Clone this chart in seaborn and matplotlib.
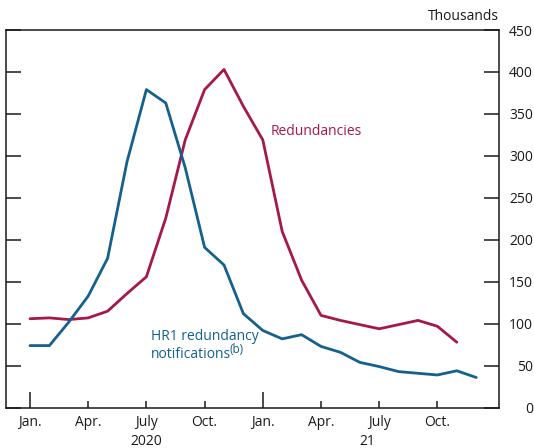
import numpy as np
import pandas as pd
import matplotlib
matplotlib.use("Agg")
import matplotlib.pyplot as plt
import matplotlib.transforms as mtransforms
import seaborn as sns

# ---- data (thousands), monthly from Jan 2020 ----
months_redund = list(range(0, 23))
redundancies = [106, 107, 105, 107, 115, 136, 156, 226, 319, 379, 403, 359,
                319, 210, 152, 110, 104, 99, 94, 99, 104, 97, 78]
months_hr1 = list(range(0, 24))
hr1 = [74, 74, 102, 133, 178, 293, 379, 363, 286, 191, 170, 112,
       92, 82, 87, 73, 66, 54, 49, 43, 41, 39, 44, 36]

quarter_pos = [0, 3, 6, 9, 12, 15, 18, 21]
quarter_labels = ["Jan.", "Apr.", "July", "Oct.", "Jan.", "Apr.", "July", "Oct."]
year_pos = [6, 18]
year_labels = ["2020", "21"]
y_ticks = [0, 50, 100, 150, 200, 250, 300, 350, 400, 450]

RED = "#a6174b"
BLUE = "#14608f"
INK = "#1a1a1a"

sns.set_theme(style="white")
plt.rcParams["font.family"] = ["Open Sans", "DejaVu Sans"]

df = pd.concat([
    pd.DataFrame({"month": months_redund, "value": redundancies, "series": "Redundancies"}),
    pd.DataFrame({"month": months_hr1, "value": hr1, "series": "HR1"}),
])

fig = plt.figure(figsize=(5.34, 4.48), dpi=100)
ax = fig.add_axes([6 / 534, 1 - 407.7 / 448, (499 - 6) / 534, (407.7 - 30) / 448])

sns.lineplot(data=df, x="month", y="value", hue="series",
             palette={"Redundancies": RED, "HR1": BLUE},
             linewidth=2.0, legend=False, ax=ax, estimator=None, sort=False)

ax.set_xlim(-1.237, 24.175)
ax.set_ylim(0, 450)
ax.set_xlabel("")
ax.set_ylabel("")

for s in ax.spines.values():
    s.set_visible(True)
    s.set_color(INK)
    s.set_linewidth(1.1)

# y axis: ticks both sides, labels on the right
ax.set_yticks(y_ticks)
ax.set_yticklabels([str(v) for v in y_ticks])
ax.tick_params(axis="y", which="major", left=True, right=True, labelleft=False,
               labelright=True, direction="in", length=10.5, width=1.1,
               color=INK, pad=24.5, labelsize=10, labelcolor=INK)
for lab in ax.get_yticklabels():
    lab.set_horizontalalignment("right")

# x axis: Jan ticks long (major), other quarters short (minor)
jan_pos = [p for p, l in zip(quarter_pos, quarter_labels) if l == "Jan."]
jan_lab = [l for l in quarter_labels if l == "Jan."]
oth_pos = [p for p, l in zip(quarter_pos, quarter_labels) if l != "Jan."]
oth_lab = [l for l in quarter_labels if l != "Jan."]
ax.set_xticks(jan_pos)
ax.set_xticklabels(jan_lab)
ax.set_xticks(oth_pos, minor=True)
ax.set_xticklabels(oth_lab, minor=True)
ax.tick_params(axis="x", which="major", bottom=True, top=False, direction="in",
               length=11.5, width=1.1, color=INK, pad=5, labelsize=10,
               labelcolor=INK)
ax.tick_params(axis="x", which="minor", bottom=True, top=False, direction="in",
               length=5.4, width=1.1, color=INK, pad=5, labelsize=10,
               labelcolor=INK)

# year labels under July ticks
trans = mtransforms.blended_transform_factory(ax.transData, fig.transFigure)
year_offsets = [0.0, -0.6]
for p, lab, off in zip(year_pos, year_labels, year_offsets):
    fig.text(p + off, 1 - 441 / 448, lab, transform=trans, ha="center", va="center",
             fontsize=10, color=INK)

# unit label
fig.text(499 / 534, 1 - 16 / 448, "Thousands", ha="right", va="center",
         fontsize=10, color=INK)

# series labels
ax.text(0.5365, 1 - (131.5 - 30) / 377.7, "Redundancies", transform=ax.transAxes,
        ha="left", va="center", fontsize=10, color=RED)
ax.text(0.2935, 1 - (336 - 30) / 377.7, "HR1 redundancy",
        transform=ax.transAxes, ha="left", va="center", fontsize=10, color=BLUE)
t2 = ax.text(0.2935, 1 - (355 - 30) / 377.7, "notifications",
             transform=ax.transAxes, ha="left", va="center", fontsize=10, color=BLUE)
fig.canvas.draw()
bb = t2.get_window_extent(renderer=fig.canvas.get_renderer())
fig.text((bb.x1 - 1) / 534, (bb.y1 - 2) / 448, "(b)", ha="left", va="center",
         fontsize=8.5, color=BLUE)

fig.savefig("out.png", dpi=100)
